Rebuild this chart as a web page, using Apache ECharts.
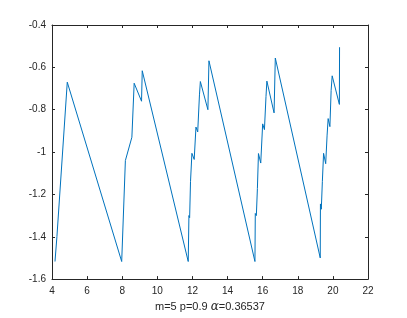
<!DOCTYPE html>
<html>
<head>
<meta charset="utf-8">
<script src="https://cdn.jsdelivr.net/npm/echarts@6/dist/echarts.min.js"></script>
<style>html,body{margin:0;padding:0;background:#fff}#c{width:407px;height:318px}</style>
</head>
<body>
<div id="c"></div>
<script>
var xs = [4.17, 4.28, 4.87, 7.97, 8.18, 8.55, 8.68, 9.1, 9.14,
  11.76, 11.8, 11.84, 11.89, 11.97, 12.1, 12.2, 12.3, 12.4, 12.45, 12.88, 12.94,
  15.56, 15.58, 15.64, 15.7, 15.76, 15.89, 16.0, 16.1, 16.19, 16.24, 16.65, 16.72,
  19.28, 19.29, 19.34, 19.4, 19.47, 19.59, 19.67, 19.73, 19.83, 19.9, 19.96, 20.37, 20.38];
var ys = [-1.517, -1.40, -0.67, -1.517, -1.04, -0.93, -0.675, -0.76, -0.616,
  -1.517, -1.30, -1.31, -1.14, -1.006, -1.035, -0.882, -0.905, -0.73, -0.667, -0.80, -0.569,
  -1.517, -1.29, -1.30, -1.172, -1.007, -1.052, -0.867, -0.894, -0.737, -0.665, -0.815, -0.556,
  -1.50, -1.245, -1.27, -1.14, -1.006, -1.055, -0.92, -0.842, -0.88, -0.709, -0.64, -0.775, -0.505];
var xTicks = [4, 6, 8, 10, 12, 14, 16, 18, 20, 22];
var yTicks = [-1.6, -1.4, -1.2, -1, -0.8, -0.6, -0.4];
var xlabelMain = 'm=5 p=0.9 ';
var xlabelSym = 'α';
var xlabelVal = '=0.36537';

var data = xs.map(function (x, i) { return [x, ys[i]]; });
var axisCol = '#262626';
var font = 'Liberation Sans, Arial, sans-serif';
function fmtY(v) { return String(Math.round(v * 10) / 10); }

var chart = echarts.init(document.getElementById('c'), null, {renderer: 'canvas'});
chart.setOption({
  animation: false,
  backgroundColor: '#fff',
  grid: {left: 52, right: 39, top: 25, bottom: 37, containLabel: false},
  xAxis: [{
    type: 'value', min: xTicks[0], max: xTicks[xTicks.length - 1], interval: 2,
    axisLine: {show: true, lineStyle: {color: axisCol, width: 1}},
    axisTick: {show: true, inside: true, length: 3, lineStyle: {color: axisCol}},
    axisLabel: {color: axisCol, fontSize: 10, fontFamily: font, margin: 7},
    splitLine: {show: false},
    name: '{a|' + xlabelMain + '}{b|' + xlabelSym + '}{a|' + xlabelVal + '}',
    nameLocation: 'middle', nameGap: 21,
    nameTextStyle: {
      rich: {
        a: {fontSize: 11, fontFamily: font, color: axisCol},
        b: {fontSize: 12, fontFamily: 'DejaVu Serif, serif', fontStyle: 'italic', color: axisCol}
      }
    }
  }, {
    type: 'value', position: 'top', min: xTicks[0], max: xTicks[xTicks.length - 1], interval: 2,
    axisLine: {show: true, lineStyle: {color: axisCol, width: 1}},
    axisTick: {show: true, inside: true, length: 3, lineStyle: {color: axisCol}},
    axisLabel: {show: false}, splitLine: {show: false}
  }],
  yAxis: [{
    type: 'value', min: yTicks[0], max: yTicks[yTicks.length - 1], interval: 0.2,
    axisLine: {show: true, lineStyle: {color: axisCol, width: 1}},
    axisTick: {show: true, inside: true, length: 3, lineStyle: {color: axisCol}},
    axisLabel: {color: axisCol, fontSize: 10, fontFamily: font, margin: 6, formatter: fmtY},
    splitLine: {show: false}
  }, {
    type: 'value', position: 'right', min: yTicks[0], max: yTicks[yTicks.length - 1], interval: 0.2,
    axisLine: {show: true, lineStyle: {color: axisCol, width: 1}},
    axisTick: {show: true, inside: true, length: 3, lineStyle: {color: axisCol}},
    axisLabel: {show: false}, splitLine: {show: false}
  }],
  series: [{
    type: 'line', data: data, xAxisIndex: 0, yAxisIndex: 0,
    showSymbol: false, symbol: 'none',
    lineStyle: {color: '#0072BD', width: 1},
    silent: true
  }]
});
</script>
</body>
</html>
